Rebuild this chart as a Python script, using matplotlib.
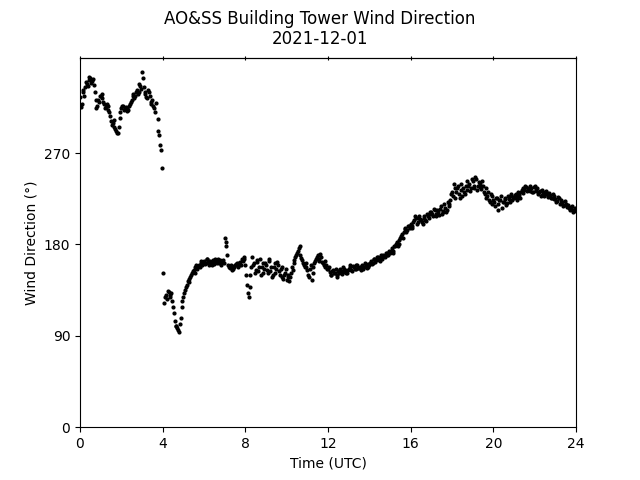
import numpy as np
import matplotlib
matplotlib.use("Agg")
import matplotlib.pyplot as plt

# 5-minute samples, one row per hour
hours = np.arange(0, 24, 5 / 60)
hours_mid = hours + 2.5 / 60
nan = np.nan

wdir = [
    325, 318, 330, 335, 338, 342, 344, 341, 337, 322, 316, 320,   # 0
    326, 324, 318, 315, 316, 310, 302, 300, 296, 292, 290, 305,   # 1
    314, 316, 313, 314, 312, 318, 322, 328, 326, 332, 330, 336,   # 2
    350, 335, 328, 324, 330, 318, 322, 314, 319, 304, 288, 273,   # 3
    152, 122, 130, 134, 128, 132, 118, 105, 100, 96, 102, 118,    # 4
    128, 135, 140, 146, 148, 152, 155, 158, 156, 160, 162, 160,   # 5
    164, 162, 166, 160, 163, 165, 161, 164, 166, 162, 160, 165,   # 6
    186, 178, 160, 157, 159, 156, 160, 162, 158, 163, 166, 168,   # 7
    160, 140, 128, 150, 168, 162, 155, 165, 158, 150, 162, 156,   # 8
    160, 152, 164, 158, 150, 162, 156, 160, 150, 158, 146, 152,   # 9
    145, 150, 148, 158, 162, 168, 172, 176, 170, 165, 160, 158,   # 10
    155, 148, 160, 152, 162, 166, 170, 164, 168, 162, 158, 160,   # 11
    156, 153, 150, 155, 152, 148, 154, 156, 151, 158, 155, 152,   # 12
    156, 160, 154, 158, 156, 160, 157, 155, 159, 158, 160, 158,   # 13
    160, 164, 162, 166, 165, 168, 164, 167, 170, 168, 172, 170,   # 14
    172, 176, 174, 178, 182, 180, 186, 190, 192, 196, 194, 198,   # 15
    200, 198, 204, 206, 202, 208, 204, 200, 206, 203, 208, 210,   # 16
    212, 208, 214, 210, 212, 215, 210, 212, 216, 214, 220, 224,   # 17
    232, 240, 226, 236, 230, 234, 228, 232, 238, 234, 240, 236,   # 18
    242, 236, 244, 238, 240, 235, 238, 230, 226, 232, 222, 228,   # 19
    224, 218, 226, 220, 224, 216, 222, 226, 221, 225, 228, 224,   # 20
    226, 230, 227, 229, 232, 236, 234, 237, 235, 233, 236, 232,   # 21
    238, 234, 230, 233, 229, 232, 230, 231, 228, 229, 226, 228,   # 22
    225, 223, 226, 221, 222, 219, 220, 218, 216, 217, 214, 213,   # 23
]

# samples in between (2.5 min later)
wdir_mid = [
    315, 332, 326, 340, 336, 345, 339, 343, 330, 314, 322, 326,   # 0
    328, 320, 314, 318, 312, 306, 298, 303, 294, 290, 296, 310,   # 1
    316, 312, 315, 311, 316, 320, 326, 324, 330, 328, 338, 333,   # 2
    344, 330, 325, 332, 326, 320, 316, 310, nan, 292, 278, 255,   # 3
    nan, 128, 126, 133, 130, 124, 112, 100, 98, 94, 108, 124,     # 4
    132, 138, 144, 143, 150, 154, 152, 160, 159, 158, 164, 163,   # 5
    161, 166, 163, 164, 160, 162, 166, 162, 163, 165, 163, 162,   # 6
    182, 170, 158, 160, 155, 158, 161, 159, 162, 160, 164, 166,   # 7
    150, 132, 138, 158, 160, 152, 163, 154, 166, 158, 152, 162,   # 8
    155, 166, 154, 148, 158, 152, 163, 154, 156, 148, 150, 156,   # 9
    148, 144, 152, 155, 165, 170, 174, 178, 167, 162, 158, 162,   # 10
    150, 156, 145, 158, 164, 168, 166, 171, 163, 160, 164, 156,   # 11
    158, 150, 154, 152, 156, 150, 152, 154, 153, 156, 152, 155,   # 12
    158, 155, 159, 156, 160, 157, 158, 160, 156, 162, 157, 161,   # 13
    162, 161, 166, 163, 168, 165, 170, 166, 169, 172, 170, 174,   # 14
    174, 172, 178, 180, 178, 184, 188, 186, 195, 192, 198, 196,   # 15
    196, 202, 208, 200, 206, 205, 202, 208, 204, 210, 206, 212,   # 16
    210, 215, 208, 214, 209, 218, 213, 220, 212, 222, 218, 230,   # 17
    228, 236, 232, 238, 226, 240, 236, 230, 242, 238, 233, 244,   # 18
    238, 246, 234, 241, 237, 242, 232, 236, 228, 224, 230, 220,   # 19
    222, 226, 214, 224, 228, 222, 225, 219, 228, 222, 230, 227,   # 20
    229, 224, 232, 226, 234, 231, 238, 233, 236, 238, 232, 237,   # 21
    233, 236, 232, 228, 234, 228, 233, 227, 231, 226, 230, 225,   # 22
    222, 227, 220, 224, 218, 223, 217, 219, 214, 218, 212, 216,   # 23
]

fig, ax = plt.subplots(figsize=(6.4, 4.8), dpi=100)
ax.scatter(hours, wdir, s=4, color="black")
ax.scatter(hours_mid, wdir_mid, s=4, color="black")

fig.suptitle("AO&SS Building Tower Wind Direction\n2021-12-01")
ax.set_xlabel("Time (UTC)")
ax.set_ylabel("Wind Direction (°)")
ax.set_xlim(0, 24)
ax.set_ylim(0, 364)
ax.set_xticks(range(0, 25, 4))
ax.set_yticks([0, 90, 180, 270])

# small ticks across the top spine
top = ax.secondary_xaxis("top")
top.set_xticks(range(0, 25, 4))
top.tick_params(direction="inout", labeltop=False)

fig.savefig("out.png")
